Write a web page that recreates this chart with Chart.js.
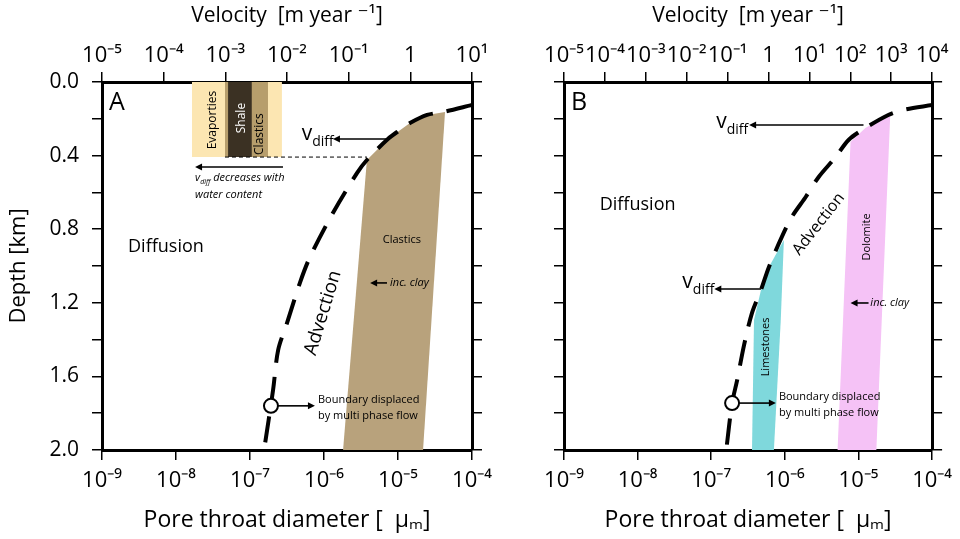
<!DOCTYPE html>
<html>
<head>
<meta charset="utf-8">
<script src="https://cdn.jsdelivr.net/npm/chart.js@4.4.1/dist/chart.umd.min.js"></script>
<style>
  html, body { margin: 0; padding: 0; background: #fff; }
  #wrapA { position: absolute; left: 0; top: 0; width: 500px; height: 539px; }
  #wrapB { position: absolute; left: 480px; top: 0; width: 480px; height: 539px; }
</style>
</head>
<body>
<div id="wrapA"><canvas id="chartA"></canvas></div>
<div id="wrapB"><canvas id="chartB"></canvas></div>
<script>
// axis ticks
const diamTicks = [1e-9, 1e-8, 1e-7, 1e-6, 1e-5, 1e-4];
const velTicksA = [1e-5, 1e-4, 1e-3, 1e-2, 1e-1, 1, 10];
const velTicksB = [1e-5, 1e-4, 1e-3, 1e-2, 1e-1, 1, 10, 100, 1000, 10000];

// Panel A - diffusion/advection boundary (pore throat diameter, depth km)
const boundA_d = [1e-4, 4.07e-5, 2.47e-5, 1.45e-5, 1.06e-5, 7.3e-6, 3.8e-6, 2.79e-6, 1.32e-6, 6.47e-7, 4.74e-7, 3.16e-7, 2.4e-7, 2.05e-7, 1.55e-7];
const boundA_z = [0.125, 0.163, 0.179, 0.223, 0.261, 0.31, 0.424, 0.495, 0.712, 0.951, 1.09, 1.31, 1.457, 1.674, 2.0];
const circleA_d = [1.92e-7];
const circleA_z = [1.76];
// clastics field
const clasticsA_d = [4.32e-5, 2.47e-5, 1.45e-5, 7.3e-6, 3.8e-6, 1.81e-6, 2.18e-5, 4.32e-5];
const clasticsA_z = [0.163, 0.179, 0.223, 0.31, 0.424, 2.0, 2.0, 0.163];
// rock columns (evaporites / shale / clastics), from surface down to colA_z
const evapA_d = [1.64e-8, 2.7e-7];
const tanA_d = [4.59e-8, 1.75e-7];
const shaleA_d = [5.05e-8, 1.06e-7];
const colA_z = [0.408, 0.408];
const threshA_d = [4.59e-8, 3.8e-6];
const threshA_z = [0.408, 0.408];

// Panel B
const boundB_d = [1e-4, 4.05e-5, 2.54e-5, 1.24e-5, 7.33e-6, 4.89e-6, 2.88e-6, 1.92e-6, 1.24e-6, 9.1e-7, 6.08e-7, 4.74e-7, 3.58e-7, 2.79e-7, 2.25e-7, 1.92e-7, 1.6e-7];
const boundB_z = [0.125, 0.152, 0.179, 0.25, 0.315, 0.408, 0.516, 0.625, 0.734, 0.842, 1.005, 1.13, 1.255, 1.43, 1.62, 1.745, 2.0];
const circleB_d = [1.92e-7];
const circleB_z = [1.745];
const dolomiteB_d = [2.7e-5, 2.54e-5, 1.24e-5, 7.8e-6, 5.2e-6, 1.75e-5, 2.7e-5];
const dolomiteB_z = [0.179, 0.179, 0.25, 0.326, 2.0, 2.0, 0.179];
const limeB_d = [9.7e-7, 6.08e-7, 4.74e-7, 3.81e-7, 3.58e-7, 7.1e-7, 8.8e-7, 9.7e-7];
const limeB_z = [0.859, 1.005, 1.13, 1.293, 2.0, 2.0, 1.293, 0.859];

const FONT = "'Open Sans', 'DejaVu Sans', sans-serif";
const NARROW = "'Liberation Sans Narrow', 'Open Sans', sans-serif";

const SUP = {'-': '⁻', '0': '⁰', '1': '¹', '2': '²', '3': '³', '4': '⁴', '5': '⁵', '6': '⁶', '7': '⁷', '8': '⁸', '9': '⁹'};
function decade(v) {
  const e = Math.round(Math.log10(v));
  if (e === 0) return '1';
  return '10' + String(e).split('').map(c => SUP[c]).join('');
}

function pts(ds, zs) {
  return ds.map((d, i) => ({x: d, y: zs[i]}));
}

function arrow(ctx, x1, y1, x2, y2) {
  const ang = Math.atan2(y2 - y1, x2 - x1);
  const hl = 7, hw = 3.5;
  ctx.lineWidth = 1.6;
  ctx.beginPath();
  ctx.moveTo(x1, y1);
  ctx.lineTo(x2 - Math.cos(ang) * hl * 0.8, y2 - Math.sin(ang) * hl * 0.8);
  ctx.stroke();
  ctx.beginPath();
  ctx.moveTo(x2, y2);
  ctx.lineTo(x2 - Math.cos(ang) * hl - Math.sin(ang) * hw, y2 - Math.sin(ang) * hl + Math.cos(ang) * hw);
  ctx.lineTo(x2 - Math.cos(ang) * hl + Math.sin(ang) * hw, y2 - Math.sin(ang) * hl - Math.cos(ang) * hw);
  ctx.closePath();
  ctx.fill();
}

// text + arrows drawn in data coordinates
function notesPlugin(p) {
  return {
    id: 'notes' + p.letter,
    afterDatasetsDraw(chart) {
      const ctx = chart.ctx, area = chart.chartArea;
      const X = v => chart.scales.x.getPixelForValue(v);
      const Y = v => chart.scales.y.getPixelForValue(v);
      ctx.save();
      ctx.fillStyle = '#000';
      ctx.strokeStyle = '#000';
      p.arrows.forEach(a => arrow(ctx, X(a[0]), Y(a[1]), X(a[2]), Y(a[3])));
      p.notes.forEach(n => {
        ctx.save();
        ctx.translate(X(n.x), Y(n.y));
        if (n.rot) ctx.rotate(n.rot * Math.PI / 180);
        ctx.fillStyle = n.color || '#000';
        ctx.textBaseline = 'middle';
        ctx.textAlign = 'left';
        const parts = n.parts || [{t: n.text}];
        const fontOf = q => (n.italic ? 'italic ' : '') + (q.sub ? Math.round(n.size * 0.65) : n.size) + 'px ' + FONT;
        let total = 0;
        parts.forEach(q => { ctx.font = fontOf(q); total += ctx.measureText(q.t).width; });
        let x = n.align === 'center' ? -total / 2 : (n.align === 'right' ? -total : 0);
        parts.forEach(q => {
          ctx.font = fontOf(q);
          ctx.fillText(q.t, x, q.sub ? n.size * 0.38 : 0);
          x += ctx.measureText(q.t).width;
        });
        ctx.restore();
      });
      ctx.font = '25px ' + FONT;
      ctx.textAlign = 'left';
      ctx.textBaseline = 'alphabetic';
      ctx.fillText(p.letter, area.left + 7, area.top + 28);
      ctx.restore();
    }
  };
}

function makeChart(id, p) {
  const tickGrid = {drawOnChartArea: false, tickLength: 10, color: '#000', lineWidth: 1.5};
  const frame = {width: 3, color: '#000'};
  return new Chart(document.getElementById(id), {
    type: 'line',
    data: {datasets: p.datasets},
    options: {
      responsive: true,
      maintainAspectRatio: false,
      animation: false,
      layout: {padding: 0},
      plugins: {legend: {display: false}, tooltip: {enabled: false}},
      scales: {
        x: {
          type: 'logarithmic', position: 'bottom', min: 1e-9, max: 1e-4,
          afterBuildTicks: s => { s.ticks = diamTicks.map(v => ({value: v})); },
          afterFit: s => { s.height = 89; },
          ticks: {callback: v => decade(v), autoSkip: false, maxRotation: 0, padding: 8, color: '#000', font: {family: NARROW, size: 22}},
          grid: tickGrid, border: frame,
          title: {display: true, text: 'Pore throat diameter [  μₘ]', color: '#000', font: {family: NARROW, size: 23}, padding: {bottom: 5}}
        },
        x2: {
          type: 'logarithmic', position: 'top', min: p.velMin, max: p.velMax,
          afterBuildTicks: s => { s.ticks = p.velTicks.map(v => ({value: v})); },
          afterFit: s => { s.height = 82; },
          ticks: {callback: v => decade(v), autoSkip: false, maxRotation: 0, padding: 3, color: '#000', font: {family: NARROW, size: 22}},
          grid: tickGrid, border: frame,
          title: {display: true, text: 'Velocity  [m year ⁻¹]', color: '#000', font: {family: FONT, size: 21}, padding: {top: 3}}
        },
        y: {
          type: 'linear', position: 'left', reverse: true, min: 0, max: 2,
          afterFit: s => { s.width = p.leftW; },
          ticks: {stepSize: 0.2, padding: 13, color: '#000', font: {family: FONT, size: 21},
            callback: v => (p.depthLabels && Math.round(v * 10) % 4 === 0) ? v.toFixed(1) : ''},
          grid: tickGrid, border: frame,
          title: {display: p.depthLabels, text: 'Depth [km]', color: '#000', font: {family: FONT, size: 22}, padding: {top: 6}}
        },
        y2: {
          type: 'linear', position: 'right', reverse: true, min: 0, max: 2,
          afterFit: s => { s.width = p.rightW; },
          ticks: {stepSize: 0.2, display: false},
          grid: tickGrid, border: frame
        }
      }
    },
    plugins: [notesPlugin(p)]
  });
}

const noLine = {borderWidth: 0, borderColor: 'rgba(0,0,0,0)', pointRadius: 0, tension: 0};
const dashed = {borderColor: '#000', borderWidth: 4, borderDash: [26, 14], tension: 0.3, pointRadius: 0, fill: false, order: 1};
const ring = {showLine: false, pointRadius: 7, pointBackgroundColor: '#fff', pointBorderColor: '#000', pointBorderWidth: 2, order: 0};

makeChart('chartA', {
  letter: 'A', velMin: 1e-5, velMax: 10, velTicks: velTicksA, depthLabels: true, leftW: 102, rightW: 28,
  datasets: [
    Object.assign({label: 'boundary displaced', data: pts(circleA_d, circleA_z)}, ring),
    Object.assign({label: 'diffusion / advection', data: pts(boundA_d, boundA_z)}, dashed),
    {label: 'threshold', data: pts(threshA_d, threshA_z), borderColor: '#000', borderWidth: 1, borderDash: [4, 3], pointRadius: 0, fill: false, order: 2},
    Object.assign({label: 'Shale', data: pts(shaleA_d, colA_z), backgroundColor: '#3b3123', fill: {value: 0}, order: 3}, noLine),
    Object.assign({label: 'Clastics col', data: pts(tanA_d, colA_z), backgroundColor: '#b79e6c', fill: {value: 0}, order: 4}, noLine),
    Object.assign({label: 'Evaporites', data: pts(evapA_d, colA_z), backgroundColor: '#fce6b2', fill: {value: 0}, order: 5}, noLine),
    Object.assign({label: 'Clastics', data: pts(clasticsA_d, clasticsA_z), backgroundColor: '#b8a27c', fill: 'shape', order: 6}, noLine)
  ],
  arrows: [
    [7.3e-6, 0.31, 1.32e-6, 0.31],
    [2.79e-7, 0.462, 1.81e-8, 0.462],
    [7.1e-6, 1.092, 4.2e-6, 1.092],
    [2.39e-7, 1.76, 7.55e-7, 1.76]
  ],
  notes: [
    {text: 'Diffusion', x: 2.25e-9, y: 0.897, size: 18},
    {text: 'Clastics', x: 1.13e-5, y: 0.859, size: 11, align: 'center'},
    {text: 'inc. clay', x: 7.8e-6, y: 1.092, size: 11, italic: true},
    {text: 'Advection', x: 9.7e-7, y: 1.255, size: 19, rot: -73, align: 'center'},
    {parts: [{t: 'v'}, {t: 'diff', sub: true}], x: 5.0e-7, y: 0.285, size: 21},
    {text: 'Evaporties', x: 3.16e-8, y: 0.207, size: 12, rot: -90, align: 'center'},
    {text: 'Shale', x: 7.8e-8, y: 0.196, size: 12, rot: -90, align: 'center', color: '#fff'},
    {text: 'Clastics', x: 1.36e-7, y: 0.283, size: 12, rot: -90, align: 'center'},
    {parts: [{t: 'v'}, {t: 'diff', sub: true}, {t: ' decreases with'}], x: 1.81e-8, y: 0.522, size: 11, italic: true},
    {text: 'water content', x: 1.81e-8, y: 0.614, size: 11, italic: true},
    {text: 'Boundary displaced', x: 8.3e-7, y: 1.728, size: 11},
    {text: 'by multi phase flow', x: 8.3e-7, y: 1.815, size: 11}
  ]
});

makeChart('chartB', {
  letter: 'B', velMin: 1e-5, velMax: 1e4, velTicks: velTicksB, depthLabels: false, leftW: 84, rightW: 26,
  datasets: [
    Object.assign({label: 'boundary displaced', data: pts(circleB_d, circleB_z)}, ring),
    Object.assign({label: 'diffusion / advection', data: pts(boundB_d, boundB_z)}, dashed),
    Object.assign({label: 'Limestones', data: pts(limeB_d, limeB_z), backgroundColor: '#7fd8dc', fill: 'shape', order: 5}, noLine),
    Object.assign({label: 'Dolomite', data: pts(dolomiteB_d, dolomiteB_z), backgroundColor: '#f5c2f6', fill: 'shape', order: 6}, noLine)
  ],
  arrows: [
    [1.17e-5, 0.234, 3.27e-7, 0.234],
    [4.74e-7, 1.125, 1.1e-7, 1.125],
    [1.37e-5, 1.201, 7.8e-6, 1.201],
    [2.39e-7, 1.745, 7.55e-7, 1.745]
  ],
  notes: [
    {text: 'Diffusion', x: 3.06e-9, y: 0.668, size: 18},
    {parts: [{t: 'v'}, {t: 'diff', sub: true}], x: 1.17e-7, y: 0.215, size: 21},
    {parts: [{t: 'v'}, {t: 'diff', sub: true}], x: 4.05e-8, y: 1.087, size: 21},
    {text: 'Advection', x: 2.88e-6, y: 0.772, size: 16, rot: -52, align: 'center'},
    {text: 'Dolomite', x: 1.28e-5, y: 0.842, size: 11, rot: -90, align: 'center'},
    {text: 'Limestones', x: 5.53e-7, y: 1.44, size: 11, rot: -90, align: 'center'},
    {text: 'inc. clay', x: 1.45e-5, y: 1.201, size: 11, italic: true},
    {text: 'Boundary displaced', x: 8.3e-7, y: 1.712, size: 11},
    {text: 'by multi phase flow', x: 8.3e-7, y: 1.799, size: 11}
  ]
});
</script>
</body>
</html>
